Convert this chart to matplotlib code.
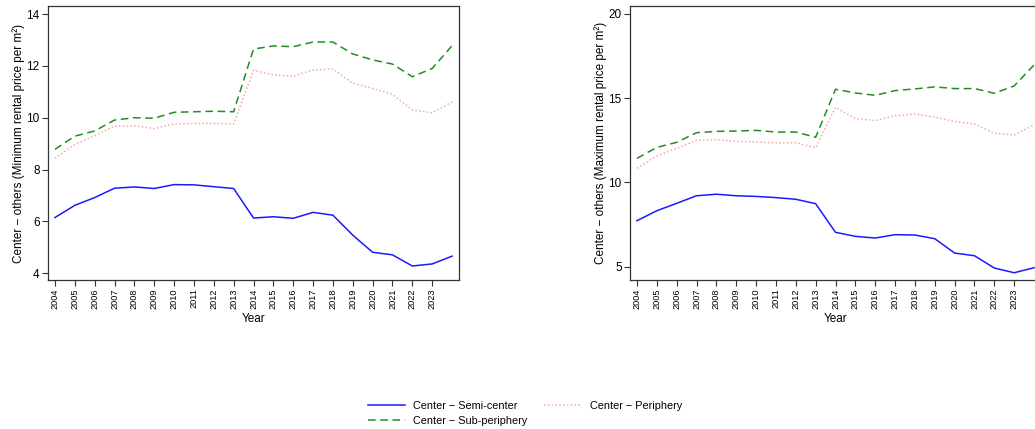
import matplotlib
matplotlib.use("Agg")
import matplotlib.pyplot as plt
from matplotlib.lines import Line2D

plt.rcParams['font.family'] = ['Liberation Sans', 'DejaVu Sans']

years = list(range(2004, 2025))
tick_years = list(range(2004, 2024))

min_semi = [6.15, 6.62, 6.92, 7.28, 7.33, 7.27, 7.42, 7.41, 7.34, 7.27, 6.13, 6.18, 6.12, 6.35, 6.24,
            5.47, 4.81, 4.71, 4.28, 4.36, 4.66]
min_sub = [8.78, 9.29, 9.49, 9.91, 10.0, 9.98, 10.21, 10.23, 10.25, 10.23, 12.65, 12.77, 12.74, 12.92, 12.92,
           12.46, 12.23, 12.07, 11.58, 11.90, 12.78]
min_per = [8.43, 8.97, 9.30, 9.68, 9.69, 9.58, 9.76, 9.78, 9.78, 9.76, 11.83, 11.65, 11.60, 11.84, 11.88,
           11.33, 11.13, 10.90, 10.30, 10.19, 10.61]

max_semi = [7.73, 8.32, 8.76, 9.21, 9.30, 9.21, 9.17, 9.10, 9.00, 8.74, 7.04, 6.80, 6.70, 6.90, 6.88,
            6.66, 5.81, 5.65, 4.92, 4.64, 4.94]
max_sub = [11.43, 12.08, 12.38, 12.95, 13.03, 13.05, 13.09, 12.99, 12.99, 12.68, 15.53, 15.31, 15.17, 15.45, 15.55,
           15.67, 15.57, 15.57, 15.29, 15.73, 16.97]
max_per = [10.84, 11.57, 12.02, 12.50, 12.54, 12.44, 12.40, 12.34, 12.36, 12.06, 14.46, 13.79, 13.67, 13.96, 14.06,
           13.88, 13.61, 13.47, 12.91, 12.82, 13.41]

labels = ["Center \u2212 Semi-center", "Center \u2212 Sub-periphery", "Center \u2212 Periphery"]
c_semi, c_sub, c_per = '#1a1aff', '#1f8f1f', '#f7a8a8'

W, H = 1035, 429
fig = plt.figure(figsize=(W / 100, H / 100), dpi=100)

def make_ax(x0, ylim, yticks, ylabel, semi, sub, per):
    ax = fig.add_axes([x0 / W, (H - 280) / H, 411 / W, 274 / H])
    ax.plot(years, semi, color=c_semi, lw=1.1, ls='-')
    ax.plot(years, sub, color=c_sub, lw=1.1, ls=(0, (5, 3)))
    ax.plot(years, per, color=c_per, lw=1.1, ls=(0, (1, 1.5)))
    ax.set_xlim(2003.65, 2024.35)
    ax.set_ylim(*ylim)
    ax.set_xticks(tick_years)
    ax.set_xticklabels([str(y) for y in tick_years], rotation=90, fontsize=6.6)
    ax.set_yticks(yticks)
    ax.set_yticklabels([str(t) for t in yticks], fontsize=8.5)
    ax.tick_params(length=4, width=0.8, color='#333333', pad=2)
    for s in ax.spines.values():
        s.set_color('#333333')
        s.set_linewidth(0.9)
    ax.set_xlabel("Year", fontsize=8.5, labelpad=3)
    ax.set_ylabel(ylabel, fontsize=8.5, labelpad=1)
    return ax

make_ax(48, (3.74, 14.31), [4, 6, 8, 10, 12, 14],
        "Center \u2212 others (Minimum rental price per m\u00b2)", min_semi, min_sub, min_per)
make_ax(630, (4.21, 20.47), [5, 10, 15, 20],
        "Center \u2212 others (Maximum rental price per m\u00b2)", max_semi, max_sub, max_per)

handles = [Line2D([], [], color=c_semi, lw=1.1, ls='-'),
           Line2D([], [], color=c_sub, lw=1.1, ls=(0, (5, 3))),
           Line2D([], [], color=c_per, lw=1.1, ls=(0, (1, 1.5)))]
fig.legend(handles, labels, ncol=2, loc='center', bbox_to_anchor=(525 / W, 1 - 413.5 / H),
           frameon=False, fontsize=7.8, handlelength=3.4, columnspacing=1.55,
           labelspacing=0.45, handletextpad=0.8)

fig.savefig("out.png", dpi=100)
